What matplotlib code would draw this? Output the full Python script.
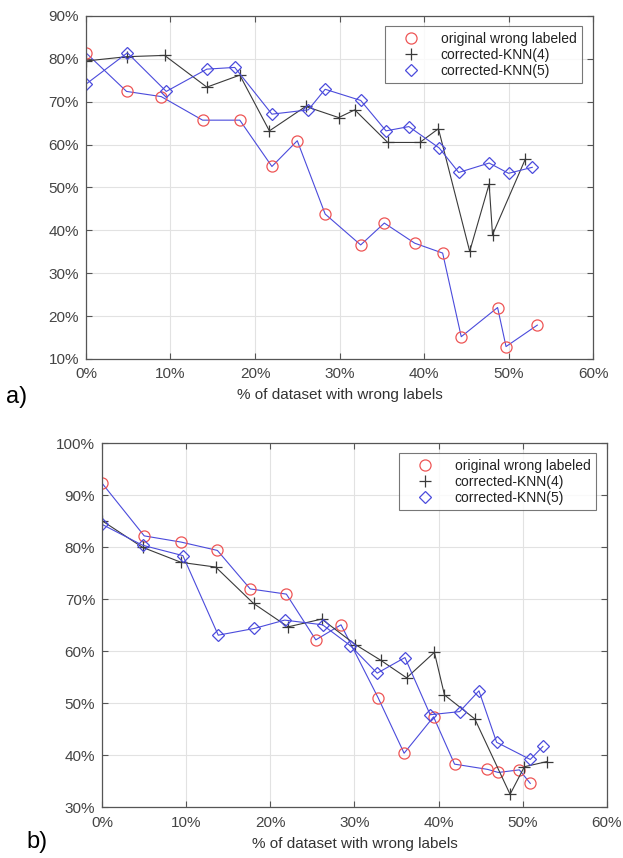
import matplotlib.pyplot as plt
from matplotlib.ticker import FuncFormatter

plt.rcParams['font.family'] = ['Liberation Sans', 'DejaVu Sans']

# panel a)
a_orig_x = [0.0, 4.8, 8.9, 13.8, 18.2, 22.0, 25.0, 28.3, 32.5, 35.3, 38.9, 42.2, 44.4, 48.7, 49.7, 53.4]
a_orig_y = [81.4, 72.4, 71.2, 65.7, 65.7, 54.9, 60.9, 43.8, 36.6, 41.7, 37.0, 34.7, 15.2, 22.0, 12.9, 17.9]
a_knn4_x = [0.0, 4.8, 9.3, 14.3, 18.2, 21.7, 26.0, 29.9, 31.8, 35.7, 39.5, 41.7, 45.4, 47.7, 48.1, 52.0]
a_knn4_y = [79.5, 80.5, 80.8, 73.4, 76.2, 63.2, 68.9, 66.3, 68.1, 60.5, 60.5, 63.7, 35.1, 50.8, 39.0, 56.7]
a_knn5_x = [0.0, 4.9, 9.5, 14.3, 17.6, 22.0, 26.3, 28.3, 32.5, 35.5, 38.2, 41.8, 44.1, 47.7, 50.0, 52.8]
a_knn5_y = [74.1, 81.4, 72.4, 77.6, 78.0, 67.1, 68.1, 72.9, 70.3, 63.2, 64.2, 59.2, 53.5, 55.7, 53.3, 54.7]

# panel b)
b_orig_x = [0.0, 5.0, 9.4, 13.7, 17.6, 21.9, 25.4, 28.4, 32.8, 35.9, 39.4, 41.9, 45.8, 47.1, 49.6, 50.9]
b_orig_y = [92.3, 82.2, 81.0, 79.4, 72.0, 71.0, 62.2, 65.1, 51.1, 40.4, 47.4, 38.3, 37.3, 36.7, 37.2, 34.6]
b_knn4_x = [0.0, 4.8, 9.4, 13.5, 18.0, 22.1, 26.1, 30.1, 33.1, 36.2, 39.5, 40.7, 44.3, 48.5, 50.2, 52.9]
b_knn4_y = [85.1, 80.0, 77.1, 76.2, 69.2, 64.7, 66.2, 61.3, 58.3, 54.9, 59.8, 51.6, 47.0, 32.5, 37.8, 38.8]
b_knn5_x = [0.0, 4.8, 9.6, 13.8, 18.1, 21.7, 26.2, 29.5, 32.7, 36.0, 39.0, 42.5, 44.8, 46.9, 50.9, 52.4]
b_knn5_y = [84.4, 80.4, 78.4, 63.1, 64.4, 66.0, 65.1, 61.1, 55.8, 58.8, 47.8, 48.4, 52.4, 42.5, 39.2, 41.7]

labels = ['original wrong labeled', 'corrected-KNN(4)', 'corrected-KNN(5)']
red = '#ee5555'
blue = '#4b4bdc'
dark = '#3a3a3a'
pct = FuncFormatter(lambda v, p: f'{v:.0f}%')

fig = plt.figure(figsize=(6.23, 8.58), dpi=100)
ax_a = fig.add_axes([0.138, 0.5816, 0.814, 0.3998])
ax_b = fig.add_axes([0.164, 0.0591, 0.810, 0.4242])


def draw(ax, ox, oy, k4x, k4y, k5x, k5y, ylim, leg_box):
    ax.plot(ox, oy, '-', color=blue, lw=0.8)
    ax.plot(ox, oy, 'o', mfc='none', mec=red, ms=8, mew=0.9, label=labels[0])
    ax.plot(k4x, k4y, '-', color=dark, lw=0.8)
    ax.plot(k4x, k4y, '+', color=dark, ms=8, mew=0.9, label=labels[1], ls='none')
    ax.plot(k5x, k5y, '-', color=blue, lw=0.8)
    ax.plot(k5x, k5y, 'D', mfc='none', mec=blue, ms=6.5, mew=0.9, label=labels[2], ls='none')
    ax.set_xlim(0, 60)
    ax.set_ylim(*ylim)
    ax.set_xticks(range(0, 61, 10))
    ax.set_yticks(range(ylim[0], ylim[1] + 1, 10))
    ax.xaxis.set_major_formatter(pct)
    ax.yaxis.set_major_formatter(pct)
    ax.grid(True, color='#e2e2e2', lw=0.8)
    ax.set_axisbelow(True)
    ax.tick_params(direction='in', top=True, right=True, length=4, width=0.8,
                   color='#555555', labelcolor='#444444', labelsize=11)
    ax.tick_params(axis='x', pad=6)
    ax.tick_params(axis='y', pad=5)
    for s in ax.spines.values():
        s.set_color('#555555')
        s.set_linewidth(0.9)
    ax.set_xlabel('% of dataset with wrong labels', fontsize=11, color='#333333', labelpad=5)
    leg = ax.legend(loc='upper left', bbox_to_anchor=leg_box, bbox_transform=fig.transFigure,
                    borderaxespad=0, fontsize=10, frameon=True, fancybox=False,
                    edgecolor='#555555', borderpad=0.4, labelspacing=0.15,
                    handletextpad=0.7, handlelength=2.9)
    leg.get_frame().set_linewidth(0.8)
    for t in leg.get_texts():
        t.set_color('#222222')


draw(ax_a, a_orig_x, a_orig_y, a_knn4_x, a_knn4_y, a_knn5_x, a_knn5_y,
     (10, 90), (385 / 623, 1 - 26 / 858))
draw(ax_b, b_orig_x, b_orig_y, b_knn4_x, b_knn4_y, b_knn5_x, b_knn5_y,
     (30, 100), (399 / 623, 1 - 453 / 858))

fig.text(6 / 623, 1 - 397 / 858, 'a)', fontsize=17, va='center', ha='left')
fig.text(26 / 623, 1 - 842 / 858, 'b)', fontsize=17, va='center', ha='left')

fig.savefig('out.png', dpi=100)
